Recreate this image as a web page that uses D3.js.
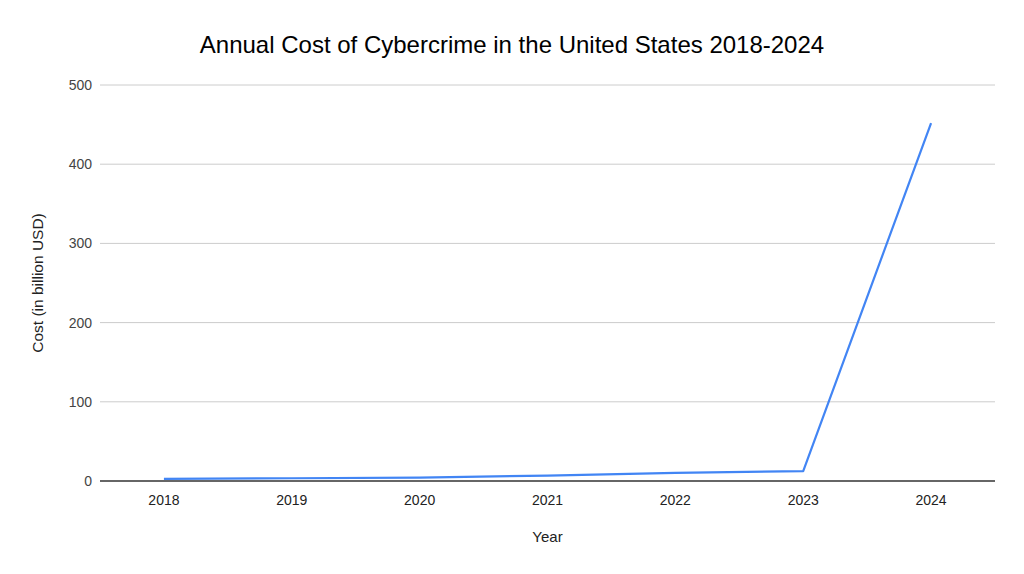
<!DOCTYPE html>
<html>
<head>
<meta charset="utf-8">
<script src="https://cdn.jsdelivr.net/npm/d3@7"></script>
<style>
  body { margin: 0; background: #fff; }
  text { font-family: "Liberation Sans", Arial, sans-serif; }
</style>
</head>
<body>
<div id="chart"></div>
<script>
var years = ["2018", "2019", "2020", "2021", "2022", "2023", "2024"];
var costs = [2.7, 3.5, 4.2, 6.9, 10.3, 12.5, 452];
var yTicks = [0, 100, 200, 300, 400, 500];

var margin = { top: 85, right: 29, bottom: 93, left: 100 },
  width = 1024 - margin.left - margin.right,
  height = 574 - margin.top - margin.bottom;

var svg = d3
  .select("#chart")
  .append("svg")
  .attr("width", 1024)
  .attr("height", 574);

var g = svg
  .append("g")
  .attr("transform", "translate(" + margin.left + "," + margin.top + ")");

var x = d3.scalePoint().domain(years).range([0, width]).padding(0.5);
var y = d3.scaleLinear().domain([0, 500]).range([height, 0]);

// gridlines
g.append("g")
  .selectAll("line")
  .data(yTicks.filter(function (d) { return d > 0; }))
  .enter()
  .append("line")
  .attr("x1", 0)
  .attr("x2", width)
  .attr("y1", function (d) { return y(d); })
  .attr("y2", function (d) { return y(d); })
  .attr("stroke", "#cccccc")
  .attr("stroke-width", 1);

// y tick labels
g.append("g")
  .selectAll("text")
  .data(yTicks)
  .enter()
  .append("text")
  .attr("x", -8)
  .attr("y", function (d) { return y(d); })
  .attr("dy", "0.35em")
  .attr("text-anchor", "end")
  .attr("font-size", 14)
  .attr("fill", "#444")
  .text(function (d) { return d; });

// x tick labels
g.append("g")
  .selectAll("text")
  .data(years)
  .enter()
  .append("text")
  .attr("x", function (d) { return x(d); })
  .attr("y", height + 24)
  .attr("text-anchor", "middle")
  .attr("font-size", 14)
  .attr("fill", "#222")
  .text(function (d) { return d; });

// baseline
g.append("line")
  .attr("x1", 0)
  .attr("x2", width)
  .attr("y1", y(0))
  .attr("y2", y(0))
  .attr("stroke", "#333")
  .attr("stroke-width", 1.3);

// line
var line = d3
  .line()
  .x(function (d, i) { return x(years[i]); })
  .y(function (d) { return y(d); });

g.append("path")
  .datum(costs)
  .attr("d", line)
  .attr("fill", "none")
  .attr("stroke", "#4285f4")
  .attr("stroke-width", 2.2)
  .attr("stroke-linejoin", "round");

// title
svg.append("text")
  .attr("x", 512)
  .attr("y", 53)
  .attr("text-anchor", "middle")
  .attr("font-size", 24)
  .attr("fill", "#000")
  .text("Annual Cost of Cybercrime in the United States 2018-2024");

// axis titles
svg.append("text")
  .attr("x", margin.left + width / 2)
  .attr("y", 542)
  .attr("text-anchor", "middle")
  .attr("font-size", 15)
  .attr("fill", "#222")
  .text("Year");

svg.append("text")
  .attr("transform", "translate(43," + (margin.top + height / 2) + ") rotate(-90)")
  .attr("text-anchor", "middle")
  .attr("font-size", 15.5)
  .attr("fill", "#222")
  .text("Cost (in billion USD)");
</script>
</body>
</html>
